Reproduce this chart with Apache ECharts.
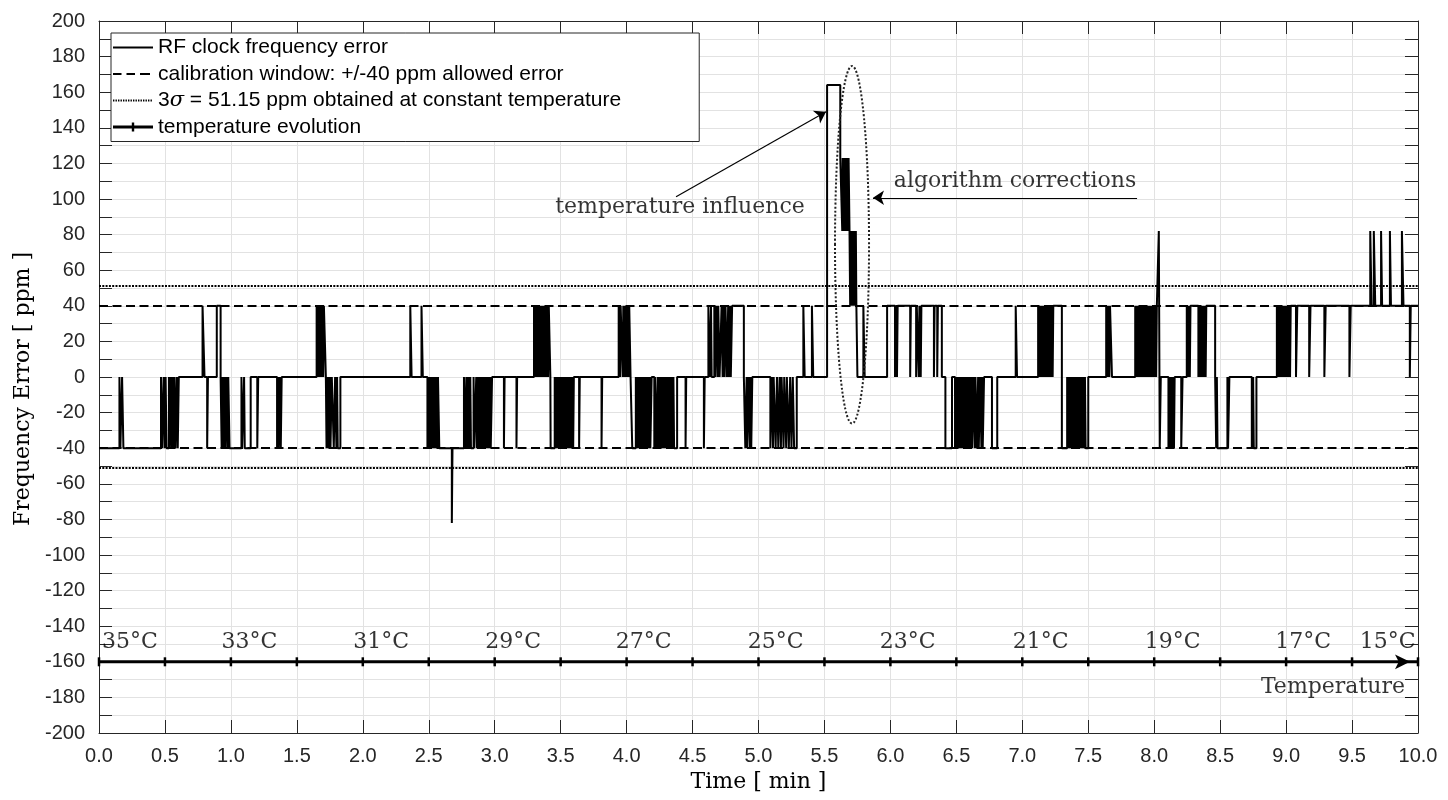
<!DOCTYPE html>
<html><head><meta charset="utf-8">
<script src="https://cdn.jsdelivr.net/npm/echarts@6/dist/echarts.min.js"></script>
<style>html,body{margin:0;padding:0;background:#fff}#c{width:1448px;height:800px}</style>
</head><body><div id="c"></div>
<script>
// RF clock frequency error, step signal: [time (min), error (ppm)], value held until next point
const signal = [
[0,-40],[0.155,0],[0.162,-40],[0.175,0],[0.185,-40],
[0.47,0],[0.478,-40],[0.49,0],[0.497,-40],[0.505,0],[0.512,-40],[0.53,0],[0.536,-40],[0.545,0],[0.552,-40],[0.558,0],[0.566,-40],[0.572,0],[0.58,-40],[0.59,0],[0.597,-40],[0.605,0],
[0.785,40],[0.80,0],[0.82,-40],[0.826,0],
[0.893,40],[0.922,0],[0.93,-40],[0.937,0],[0.945,-40],[0.95,0],[0.958,-40],[0.965,0],[0.975,-40],[0.98,0],[0.99,-40],
[1.08,0],[1.085,-40],[1.1,0],[1.105,-40],[1.15,0],
[1.2,-40],[1.207,0],[1.35,-40],[1.356,0],[1.362,-40],[1.37,0],[1.378,-40],[1.385,0],
[1.65,40],[1.656,0],[1.66,40],[1.667,0],[1.672,40],[1.68,0],[1.684,40],[1.69,0],[1.695,40],[1.70,0],[1.705,40],[1.72,0],
[1.725,-40],[1.735,0],[1.74,-40],[1.75,0],[1.755,-40],[1.765,0],[1.78,-40],[1.79,0],[1.8,-40],[1.805,0],[1.81,-40],[1.83,0],
[2.36,40],[2.37,0],[2.445,40],[2.455,0],
[2.49,-40],[2.497,0],[2.505,-40],[2.51,0],[2.52,-40],[2.525,0],[2.535,-40],[2.54,0],[2.55,-40],[2.555,0],[2.565,-40],[2.57,0],[2.58,-40],
[2.675,-82],[2.68,-40],
[2.767,0],[2.775,-40],[2.785,0],[2.79,-40],[2.80,0],[2.805,-40],[2.815,0],[2.82,-40],[2.84,0],[2.845,-40],[2.86,0],[2.865,-40],[2.875,0],[2.88,-40],[2.89,0],[2.895,-40],[2.905,0],[2.91,-40],[2.92,0],[2.925,-40],[2.935,0],[2.94,-40],[2.95,0],[2.955,-40],[2.965,0],[2.97,-40],[2.98,0],
[3.07,-40],[3.075,0],[3.165,-40],[3.17,0],
[3.298,40],[3.305,0],[3.31,40],[3.318,0],[3.322,40],[3.33,0],[3.335,40],[3.342,0],[3.348,40],[3.355,0],[3.36,40],[3.368,0],[3.372,40],[3.38,0],[3.385,40],[3.392,0],[3.398,40],[3.405,0],[3.41,40],[3.422,0],
[3.424,-40],[3.455,0],[3.46,-40],[3.47,0],[3.475,-40],[3.485,0],[3.49,-40],[3.50,0],[3.505,-40],[3.515,0],[3.52,-40],[3.53,0],[3.535,-40],[3.545,0],[3.55,-40],[3.56,0],[3.565,-40],[3.575,0],[3.58,-40],[3.59,0],[3.595,-40],[3.60,0],
[3.64,-40],[3.645,0],[3.81,-40],[3.815,0],
[3.94,40],[3.95,0],[3.955,40],[3.97,0],[3.975,40],[3.985,0],[3.99,40],[4.0,0],[4.005,40],[4.015,0],[4.02,40],[4.03,0],
[4.043,-40],[4.07,0],[4.075,-40],[4.085,0],[4.09,-40],[4.10,0],[4.105,-40],[4.115,0],[4.12,-40],[4.13,0],[4.135,-40],[4.145,0],[4.15,-40],[4.16,0],[4.165,-40],[4.175,0],[4.18,-40],[4.19,0],[4.21,-40],[4.215,0],[4.225,-40],[4.235,0],[4.24,-40],[4.25,0],[4.255,-40],[4.265,0],[4.27,-40],[4.28,0],[4.285,-40],[4.295,0],[4.30,-40],[4.31,0],[4.315,-40],[4.325,0],[4.33,-40],[4.34,0],[4.345,-40],[4.355,0],[4.36,-40],[4.383,0],
[4.447,-40],[4.452,0],[4.586,-40],[4.592,0],
[4.62,40],[4.63,0],[4.64,40],[4.645,0],[4.665,40],[4.672,0],[4.68,40],[4.69,0],[4.695,40],[4.705,0],[4.72,40],[4.728,0],[4.735,40],[4.742,0],[4.75,40],[4.76,0],[4.77,40],[4.775,0],[4.785,40],[4.79,0],[4.80,40],[4.889,0],
[4.90,-40],[4.91,0],[4.915,-40],[4.925,0],[4.935,-40],[4.94,0],[4.945,-40],[4.953,0],
[5.09,-40],[5.10,0],[5.11,-40],[5.115,0],[5.13,-40],[5.14,0],[5.15,-40],[5.16,0],[5.17,-40],[5.175,0],[5.19,-40],[5.195,0],[5.21,-40],[5.215,0],[5.23,-40],[5.24,0],[5.25,-40],[5.26,0],[5.27,-40],[5.29,0],
[5.34,40],[5.35,0],[5.405,40],[5.415,0],
[5.52,164],[5.62,123],[5.635,82],[5.638,123],[5.642,82],[5.645,123],[5.65,82],[5.653,123],[5.658,82],[5.66,123],[5.665,82],[5.668,123],[5.672,82],[5.675,123],[5.68,82],[5.683,123],[5.69,82],[5.695,40],[5.698,82],[5.703,40],[5.706,82],[5.71,40],[5.714,82],[5.718,40],[5.722,82],[5.726,40],[5.73,82],[5.734,40],[5.738,82],[5.742,40],[5.75,0],
[5.795,40],[5.805,0],
[5.975,40],[6.035,0],[6.04,40],[6.05,0],[6.055,40],[6.15,0],[6.155,40],[6.195,0],[6.2,40],[6.215,0],[6.22,40],[6.23,0],[6.235,40],[6.33,0],[6.335,40],[6.355,0],[6.36,40],[6.39,0],
[6.417,-40],[6.467,0],[6.49,-40],[6.495,0],[6.50,-40],[6.51,0],[6.515,-40],[6.525,0],[6.53,-40],[6.54,0],[6.545,-40],[6.555,0],[6.56,-40],[6.57,0],[6.575,-40],[6.585,0],[6.59,-40],[6.60,0],[6.605,-40],[6.615,0],[6.62,-40],[6.63,0],[6.64,-40],[6.645,0],[6.655,-40],[6.665,0],[6.67,-40],[6.68,0],[6.69,-40],[6.695,0],[6.70,-40],[6.71,0],[6.77,-40],[6.81,0],
[6.95,40],[6.96,0],
[7.12,40],[7.125,0],[7.13,40],[7.14,0],[7.145,40],[7.155,0],[7.16,40],[7.17,0],[7.175,40],[7.185,0],[7.19,40],[7.20,0],[7.205,40],[7.215,0],[7.22,40],[7.23,0],[7.235,40],[7.30,-40],
[7.34,0],[7.345,-40],[7.355,0],[7.36,-40],[7.37,0],[7.375,-40],[7.385,0],[7.39,-40],[7.40,0],[7.405,-40],[7.415,0],[7.42,-40],[7.43,0],[7.435,-40],[7.445,0],[7.45,-40],[7.46,0],[7.465,-40],[7.475,0],[7.48,-40],[7.50,0],
[7.636,40],[7.645,0],[7.65,40],[7.66,0],[7.665,40],[7.68,0],
[7.856,40],[7.865,0],[7.87,40],[7.88,0],[7.885,40],[7.895,0],[7.90,40],[7.91,0],[7.915,40],[7.925,0],[7.93,40],[7.94,0],[7.945,40],[7.955,0],[7.96,40],[7.97,0],[7.975,40],[7.985,0],[7.99,40],[8.00,0],[8.005,40],[8.015,0],[8.02,40],[8.035,82],[8.042,-40],[8.05,0],
[8.108,-40],[8.113,0],[8.12,-40],[8.125,0],[8.135,-40],[8.14,0],[8.15,-40],[8.155,0],[8.205,-40],[8.215,0],
[8.247,40],[8.255,0],[8.26,40],[8.27,0],[8.275,40],[8.335,0],[8.34,40],[8.345,0],[8.35,40],[8.36,0],[8.365,40],[8.375,0],[8.38,40],[8.39,0],[8.395,40],[8.462,0],
[8.47,-40],[8.475,0],[8.48,-40],[8.555,0],[8.56,-40],[8.57,0],
[8.74,-40],[8.75,0],[8.755,-40],[8.775,0],
[8.93,40],[8.94,0],[8.945,40],[8.955,0],[8.96,40],[8.97,0],[8.975,40],[8.985,0],[8.99,40],[9.00,0],[9.005,40],[9.015,0],[9.02,40],[9.03,0],[9.035,40],
[9.075,0],[9.085,40],[9.175,0],[9.185,40],[9.29,0],[9.30,40],[9.48,0],[9.49,40],
[9.638,82],[9.648,40],[9.665,82],[9.676,40],[9.72,82],[9.728,40],[9.787,82],[9.795,40],[9.878,82],[9.89,40],
[9.938,0],[9.945,40],[10,40]
];
const calibLevels = [40, -40];
const sigmaLevels = [51.15, -51.15];
const tempLevel = -160;
const tempTicks = [0,0.5,1,1.5,2,2.5,3,3.5,4,4.5,5,5.5,6,6.5,7,7.5,8,8.5,9,9.5,10];
const tempLabels = ['35°C','33°C','31°C','29°C','27°C','25°C','23°C','21°C','19°C','17°C','15°C'];
const tempLabelPos = [0.235,1.14,2.14,3.14,4.13,5.13,6.13,7.14,8.14,9.13,9.77];
const tempLabelY = -149;
const tempTitle = [9.985, -174.5, 'Temperature_'];
const notes = [[4.405, 95.1, 'temperature influence'], [6.945, 110.2, 'algorithm corrections']];
const arrows = [[[4.375, 101.3], [5.512, 149]], [[7.87, 100.7], [5.868, 100.7]]];
const ellipseSpec = [5.709, 74.3, 0.129, 100.4]; // center x, center y, radius x, radius y
const names = ['RF clock frequency error', 'calibration window: +/-40 ppm allowed error', '3σ = 51.15 ppm obtained at constant temperature', 'temperature evolution'];

const AX = '#262626', GRID = '#e2e2e2';
const SANS = 'Liberation Sans, Arial, Helvetica, sans-serif';
const SERIF = 'DejaVu Serif, serif';
const box = 'M0,0M40,14';
let dots = box;
for (let x = 0; x < 40; x += 2.5) dots += 'M' + x + ',6.1h1.4v1.8h-1.4z';
const icons = [
  'path://' + box + 'M0,6h40v2h-40z',
  'path://' + box + 'M0,6h8.5v2h-8.5zM13.5,6h8.5v2h-8.5zM27,6h10v2h-10z',
  'path://' + dots,
  'path://' + box + 'M0,5.5h40v3h-40zM18.8,2.5h2.4v9h-2.4z'
];

const chart = echarts.init(document.getElementById('c'), null, {renderer: 'canvas'});
const xBase = {type: 'value', min: 0, max: 10, interval: 0.5};
const yBase = {type: 'value', min: -200, max: 200, interval: 10};
chart.setOption({
  animation: false,
  backgroundColor: '#fff',
  grid: {left: 99, right: 30, top: 21, bottom: 67},
  legend: {
    left: 111, top: 33, orient: 'vertical', align: 'left', selectedMode: false,
    itemWidth: 40, itemHeight: 14, itemGap: 5.5, padding: [4, 78, 4, 2],
    backgroundColor: '#fff', borderColor: AX, borderWidth: 1, borderRadius: 0,
    textStyle: {fontFamily: SANS, fontSize: 21, color: '#000',
      rich: {i: {fontFamily: SERIF, fontStyle: 'italic', fontSize: 21, color: '#000'}}},
    formatter: n => n.replace('σ', '{i|σ}'),
    data: names.map((n, i) => ({name: n, icon: icons[i], itemStyle: {color: '#000', borderWidth: 0}}))
  },
  xAxis: [
    Object.assign({}, xBase, {
      position: 'bottom',
      axisLine: {show: true, onZero: false, lineStyle: {color: AX, width: 1}},
      axisTick: {show: true, inside: true, length: 13, lineStyle: {color: AX}},
      axisLabel: {formatter: v => v.toFixed(1), fontFamily: SANS, fontSize: 20, color: AX, margin: 13},
      splitLine: {show: true, lineStyle: {color: GRID, width: 1}},
      name: 'Time [ min ]', nameLocation: 'middle', nameGap: 36,
      nameTextStyle: {fontFamily: SERIF, fontSize: 22, color: '#000'}
    }),
    Object.assign({}, xBase, {
      position: 'top',
      axisLine: {show: true, onZero: false, lineStyle: {color: AX, width: 1}},
      axisTick: {show: true, inside: true, length: 13, lineStyle: {color: AX}},
      axisLabel: {show: false}, splitLine: {show: false}
    })
  ],
  yAxis: [
    Object.assign({}, yBase, {
      position: 'left',
      axisLine: {show: true, onZero: false, lineStyle: {color: AX, width: 1}},
      axisTick: {show: true, inside: true, length: 13, lineStyle: {color: AX}},
      axisLabel: {formatter: v => (Math.round(v) % 20 === 0 ? String(Math.round(v)) : ''), fontFamily: SANS, fontSize: 20, color: AX, margin: 14},
      splitLine: {show: true, lineStyle: {color: GRID, width: 1}},
      name: 'Frequency Error [ ppm ]', nameLocation: 'middle', nameGap: 63,
      nameTextStyle: {fontFamily: SERIF, fontSize: 22, color: '#000', padding: [0, 24, 0, 0]}
    }),
    Object.assign({}, yBase, {
      position: 'right',
      axisLine: {show: true, onZero: false, lineStyle: {color: AX, width: 1}},
      axisTick: {show: true, inside: true, length: 13, lineStyle: {color: AX}},
      axisLabel: {show: false}, splitLine: {show: false}
    })
  ],
  series: [
    {
      name: names[1], type: 'line', data: [], itemStyle: {color: '#000'}, silent: true,
      markLine: {silent: true, symbol: ['none', 'none'], label: {show: false},
        lineStyle: {color: '#000', width: 2, type: [9, 4.5]},
        data: calibLevels.map(v => ({yAxis: v}))}
    },
    {
      name: names[2], type: 'line', data: [], itemStyle: {color: '#000'}, silent: true,
      markLine: {silent: true, symbol: ['none', 'none'], label: {show: false},
        lineStyle: {color: '#000', width: 2, type: [2, 1.3]},
        data: sigmaLevels.map(v => ({yAxis: v}))}
    },
    {
      name: names[0], type: 'line', step: 'end', data: signal, showSymbol: false, symbol: 'none',
      lineStyle: {color: '#000', width: 2}, itemStyle: {color: '#000'}, silent: true, z: 3
    },
    {
      name: names[3], type: 'line', data: tempTicks.map(t => [t, tempLevel]),
      symbol: 'rect', symbolSize: [2.5, 9], showSymbol: true,
      lineStyle: {color: '#000', width: 3}, itemStyle: {color: '#000'}, silent: true, z: 4,
      markPoint: {silent: true, symbol: 'arrow', symbolSize: [11, 15], symbolRotate: -90, symbolOffset: [-8, 0],
        itemStyle: {color: '#000'}, label: {show: false},
        data: [{coord: [10, tempLevel]}]}
    },
    {
      name: 'temperatureLabels', type: 'scatter', symbolSize: 0, silent: true, z: 5,
      data: tempLabelPos.map((p, i) => [p, tempLabelY, tempLabels[i]]),
      label: {show: true, position: 'inside', formatter: p => p.data[2], fontFamily: SERIF, fontSize: 22, color: '#000'}
    },
    {
      name: 'temperatureTitle', type: 'scatter', symbolSize: 0, silent: true, z: 5,
      data: [tempTitle],
      label: {show: true, position: 'left', distance: 0, formatter: p => p.data[2], fontFamily: SERIF, fontSize: 22, color: '#000'}
    },
    {
      name: 'notes', type: 'scatter', symbolSize: 0, silent: true, z: 5,
      data: notes,
      label: {show: true, position: 'inside', formatter: p => p.data[2], fontFamily: SERIF, fontSize: 22, color: '#000'},
      markLine: {silent: true, symbol: ['none', 'arrow'], symbolSize: 11, label: {show: false},
        lineStyle: {color: '#000', width: 1.2, type: 'solid'},
        data: arrows.map(a => [{coord: a[0]}, {coord: a[1]}])}
    },
    {
      name: 'ellipse', type: 'custom', silent: true, z: 6, clip: false,
      data: [ellipseSpec],
      renderItem: (params, api) => {
        const c = api.coord([api.value(0), api.value(1)]);
        const e = api.coord([api.value(0) + api.value(2), api.value(1) + api.value(3)]);
        return {type: 'ellipse', shape: {cx: c[0], cy: c[1], rx: Math.abs(e[0] - c[0]), ry: Math.abs(c[1] - e[1])},
          style: {fill: 'none', stroke: '#222', lineWidth: 2, lineDash: [2, 2]}};
      }
    }
  ]
});
</script></body></html>
